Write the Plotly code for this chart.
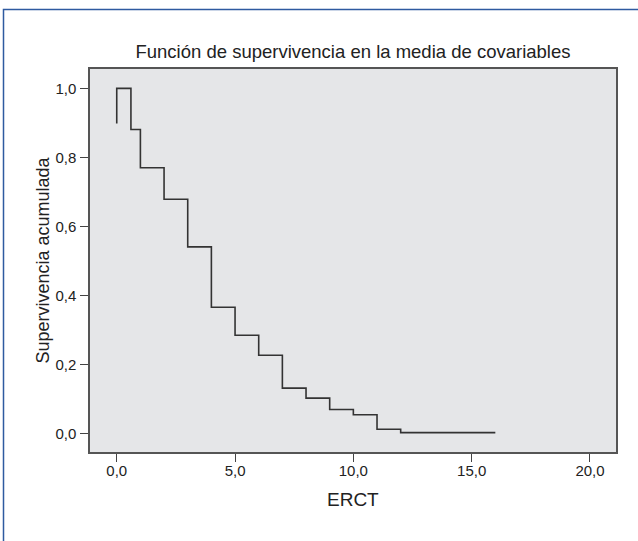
import plotly.graph_objects as go

# Survival step function data (time, cumulative survival)
times = [0, 0, 0.6, 1, 2, 3, 4, 5, 6, 7, 8, 9, 10, 11, 12, 16]
survival = [0.898, 1.0, 0.881, 0.770, 0.679, 0.541, 0.366, 0.285, 0.227,
            0.132, 0.103, 0.070, 0.055, 0.013, 0.003, 0.003]

x_ticks = [0, 5, 10, 15, 20]
y_ticks = [0.0, 0.2, 0.4, 0.6, 0.8, 1.0]

title_text = "Función de supervivencia en la media de covariables"
x_title = "ERCT"
y_title = "Supervivencia acumulada"

W, H = 638, 541
L, R, T, B = 90, 22, 69, 89
pw, ph = W - L - R, H - T - B

font = "Liberation Sans, Arial, sans-serif"

fig = go.Figure()
fig.add_trace(go.Scatter(
    x=times, y=survival, mode="lines", line_shape="hv",
    line=dict(color="#333333", width=1.6), showlegend=False,
    hoverinfo="x+y"))

axis_common = dict(
    showline=True, mirror=True, linecolor="#555555", linewidth=1.5,
    ticks="outside", ticklen=8, tickwidth=1.3, tickcolor="#444444",
    showgrid=False, zeroline=False, tickformat=".1f",
    tickfont=dict(family=font, size=15, color="#222222"),
)

fig.update_xaxes(range=[-1.13, 21.1], tickvals=x_ticks, ticklabelstandoff=-4,
                 **axis_common)
fig.update_yaxes(range=[-0.053, 1.056], tickvals=y_ticks, ticklabelstandoff=1,
                 **axis_common)

def px_to_paper_x(px):
    return (px - L) / pw

def px_to_paper_y(py):
    return (H - B - py) / ph

fig.update_layout(
    width=W, height=H,
    margin=dict(l=L, r=R, t=T, b=B),
    plot_bgcolor="#e5e6e8", paper_bgcolor="white",
    separators=",.",
    font=dict(family=font, color="#222222"),
    title=dict(text=title_text, x=0.5, xref="paper", xanchor="center",
               y=1 - 52 / H, yref="container", yanchor="middle",
               font=dict(family=font, size=18.5, color="#222222")),
    annotations=[
        dict(text=x_title, xref="paper", yref="paper",
             x=0.5, y=px_to_paper_y(499), xanchor="center", yanchor="middle",
             showarrow=False, font=dict(family=font, size=19, color="#222222")),
        dict(text=y_title, xref="paper", yref="paper",
             x=px_to_paper_x(42), y=0.5, xanchor="center", yanchor="middle",
             textangle=-90, showarrow=False,
             font=dict(family=font, size=18, color="#222222")),
    ],
    shapes=[
        dict(type="rect", xref="paper", yref="paper",
             x0=px_to_paper_x(3.5), x1=px_to_paper_x(700),
             y0=px_to_paper_y(700), y1=px_to_paper_y(9.5),
             line=dict(color="#2e5aa0", width=1.5), layer="below"),
    ],
)

fig.write_html("out.html")
